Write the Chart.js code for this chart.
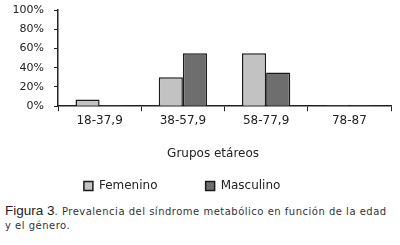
<!DOCTYPE html>
<html>
<head>
<meta charset="utf-8">
<script src="https://cdn.jsdelivr.net/npm/chart.js@4"></script>
<style>
    body { margin: 0; background: #fff; }
    #wrap { position: absolute; left: 0; top: 0; width: 400px; height: 202px; }
    #caption { position: absolute; left: 5px; top: 204px; width: 388px; font-family: "DejaVu Sans", sans-serif; font-size: 10px; letter-spacing: 0.5px; color: #333; line-height: 14px; }
    #caption b { font-family: "Liberation Sans", Arial, sans-serif; font-weight: normal; font-size: 13.5px; letter-spacing: 0; color: #222; }
</style>
</head>
<body>
<div id="wrap"><canvas id="myChart"></canvas></div>
<div id="caption"><b>Figura 3</b>. Prevalencia del síndrome metabólico en función de la edad y el género.</div>
<script>
const grupos = ['18-37,9', '38-57,9', '58-77,9', '78-87'];
const femenino = [7, 30, 55, 1];
const masculino = [1, 55, 35, 1];
const yTicks = [0, 20, 40, 60, 80, 100];

let ctx = document.getElementById('myChart').getContext('2d');
const config = {
    type: 'bar',
    data: {
        labels: grupos,
        datasets: [
            {
                label: 'Femenino',
                data: femenino,
                backgroundColor: '#c2c2c2',
                borderColor: '#1a1a1a',
                borderWidth: 1.5
            },
            {
                label: 'Masculino',
                data: masculino,
                backgroundColor: '#6e6e6e',
                borderColor: '#1a1a1a',
                borderWidth: 1.5
            }
        ]
    },
    options: {
        responsive: true,
        maintainAspectRatio: false,
        animation: false,
        categoryPercentage: 0.58,
        barPercentage: 1,
        layout: { padding: { left: 0, right: 9, top: 10, bottom: 0 } },
        plugins: {
            tooltip: { enabled: false },
            legend: {
                position: 'bottom',
                labels: {
                    color: '#222',
                    font: { family: 'DejaVu Sans', size: 12 },
                    boxWidth: 9,
                    boxHeight: 9,
                    padding: 10,
                    // pad labels so the items sit apart and a bit left of centre
                    generateLabels: function(chart) {
                        let items = Chart.defaults.plugins.legend.labels.generateLabels(chart);
                        items[0].text = items[0].text + '          ';
                        items[1].text = items[1].text + '       ';
                        return items;
                    }
                }
            }
        },
        scales: {
            x: {
                grid: { drawOnChartArea: false, drawTicks: true, tickLength: 5, color: '#222', offset: true },
                border: { color: '#222', width: 1.5 },
                ticks: { color: '#222', font: { family: 'DejaVu Sans', size: 12 }, padding: 2, autoSkip: false, maxRotation: 0 },
                title: { display: true, text: 'Grupos etáreos      ', color: '#222', font: { family: 'DejaVu Sans', size: 12 }, padding: { top: 17, bottom: 9 } }
            },
            y: {
                min: 0,
                max: 100,
                afterFit: function(scale) {
                    scale.width = 58;
                    scale.paddingTop = 0;
                },
                afterBuildTicks: function(scale) { scale.ticks = yTicks.map(v => ({ value: v })); },
                grid: { drawOnChartArea: false, drawTicks: true, tickLength: 4, color: '#222' },
                border: { color: '#222', width: 1.5 },
                ticks: {
                    color: '#222',
                    font: { family: 'DejaVu Sans', size: 11 },
                    padding: 10,
                    autoSkip: false,
                    callback: function(value) { return value + '%'; }
                }
            }
        }
    }
};
new Chart(ctx, config);
</script>
</body>
</html>
